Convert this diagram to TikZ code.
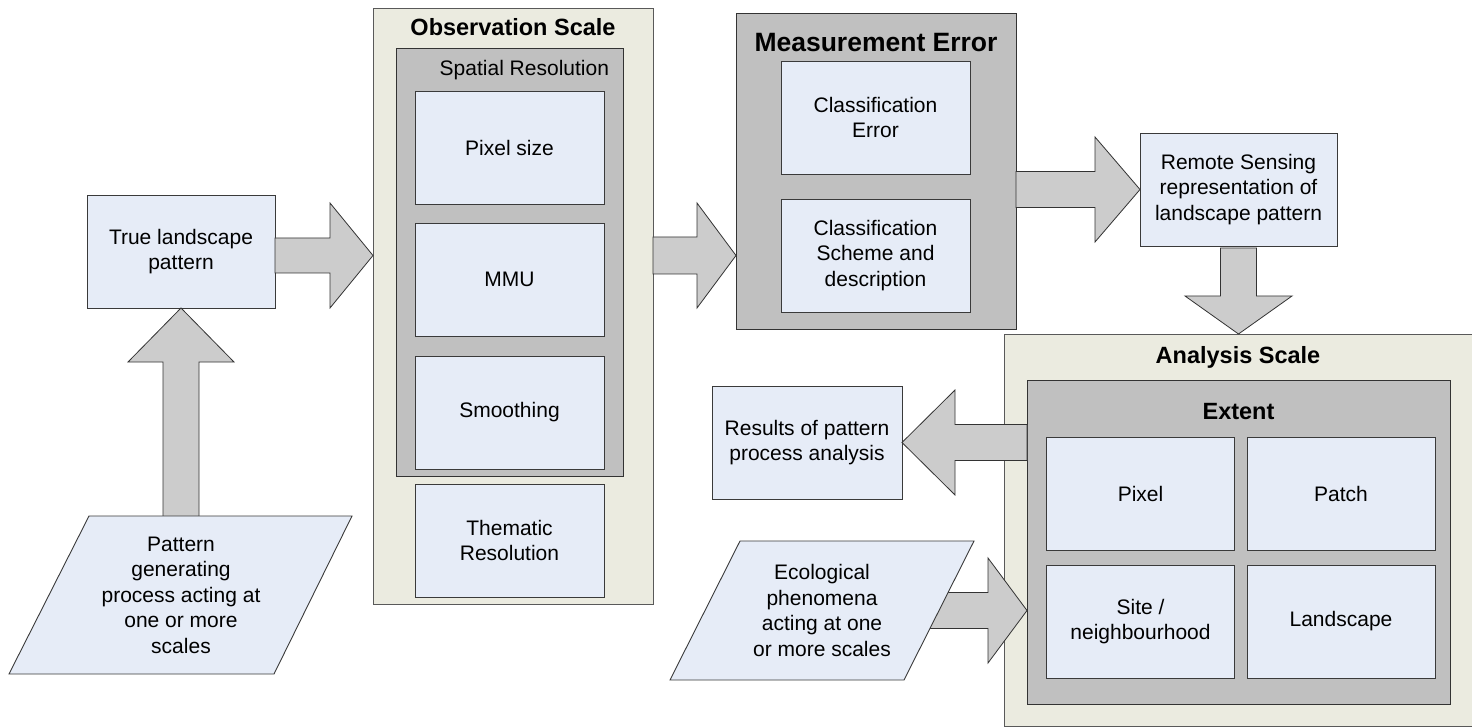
\documentclass[tikz,border=0pt]{standalone}
\usepackage{fontspec}
\setmainfont{Liberation Sans}
\usetikzlibrary{calc}
\definecolor{boxblue}{HTML}{E6ECF7}
\definecolor{beige}{HTML}{EBEBE0}
\definecolor{contgray}{HTML}{C0C0C0}
\definecolor{arrgray}{HTML}{CCCCCC}
\definecolor{edgecol}{HTML}{3A3A3A}
\tikzset{
 every node/.style={font=\fontsize{21}{25.5}\selectfont, inner sep=0pt, outer sep=0pt, align=center},
 bluebox/.style={draw=edgecol, fill=boxblue, line width=0.9pt, minimum width=189pt, minimum height=113pt},
 outerbox/.style={draw=black!65, fill=beige, line width=0.9pt},
 graybox/.style={draw=black!80, fill=contgray, line width=0.9pt},
 blk/.style={draw=black!80, fill=arrgray, line width=0.8pt, line join=miter},
 para/.style={draw=edgecol, fill=boxblue, line width=0.9pt},
 titlebold/.style={font=\fontsize{23.5}{28}\selectfont\bfseries},
 titlebig/.style={font=\fontsize{26.5}{30}\selectfont\bfseries},
}
% block arrow: start, tip, shaft half width, head half width, head length
\newcommand{\blkarrow}[5]{%
 \path ($(#2)!#5!(#1)$) coordinate (bah);
 \draw[blk] ($(#1)!#3!90:(#2)$) -- ($(bah)!#3!90:(#2)$) -- ($(bah)!#4!90:(#2)$) -- (#2)
   -- ($(bah)!#4!-90:(#2)$) -- ($(bah)!#3!-90:(#2)$) -- ($(#1)!#3!-90:(#2)$) -- cycle;}
\begin{document}
\begin{tikzpicture}[x=1pt,y=-1pt]
\useasboundingbox (0,0) rectangle (1472,727);
\clip (0,0) rectangle (1472,727);
% containers
\node[outerbox, minimum width=280pt, minimum height=596pt] (obs) at (513,306) {};
\node[graybox, minimum width=227pt, minimum height=428pt] (spat) at (509.5,262) {};
\node[graybox, minimum width=280pt, minimum height=316pt] (meas) at (876,171) {};
\node[outerbox, minimum width=486pt, minimum height=392pt] (ana) at (1247,530) {};
\node[graybox, minimum width=423pt, minimum height=324pt] (ext) at (1238.5,542) {};
% titles
\node[titlebold] (obst) at (513,27) {Observation Scale};
\node[anchor=east] (spatt) at (609,70) {Spatial Resolution};
\node[titlebig] (meast) at (876,43) {Measurement Error};
\node[titlebold] (anat) at (1238,357) {Analysis Scale};
\node[titlebold] (extt) at (1238.5,412) {Extent};
% boxes
\node[bluebox, minimum width=188pt] (true) at (181,251.5) {True landscape\\pattern};
\node[bluebox] (pix) at (509.5,147.5) {Pixel size};
\node[bluebox] (mmu) at (509.5,279.5) {MMU};
\node[bluebox] (smo) at (509.5,412.5) {Smoothing};
\node[bluebox] (them) at (509.5,540.5) {Thematic\\Resolution};
\node[bluebox] (clerr) at (875.5,117.5) {Classification\\Error};
\node[bluebox] (clsch) at (875.5,255.5) {Classification\\Scheme and\\description};
\node[bluebox, minimum width=197pt] (rem) at (1238.5,189.5) {Remote Sensing\\representation of\\landscape pattern};
\node[bluebox, minimum width=190pt] (res) at (807,442.5) {Results of pattern\\process analysis};
\node[bluebox, minimum width=188pt] (pxl) at (1140.5,493.5) {Pixel};
\node[bluebox, minimum width=188pt] (pat) at (1341,493.5) {Patch};
\node[bluebox, minimum width=188pt] (site) at (1140.5,621.5) {Site /\\neighbourhood};
\node[bluebox, minimum width=188pt] (land) at (1341,621.5) {Landscape};
% centres of the parallelograms
\coordinate (pgc) at (181,595);
\coordinate (ecc) at (822,610.5);
% arrows
\coordinate (a1s) at ($(true.east)+(0,4)$);
\coordinate (a1t) at (obs.west |- a1s);
\blkarrow{a1s}{a1t}{17.5pt}{52.5pt}{43pt}
\blkarrow{pgc}{true.south}{18pt}{53pt}{54pt}
\coordinate (a3s) at (obs.east |- clsch.center);
\coordinate (a3t) at (meas.west |- clsch.center);
\blkarrow{a3s}{a3t}{18.5pt}{52.5pt}{39pt}
\coordinate (a4s) at (meas.east |- rem.west);
\blkarrow{a4s}{rem.west}{18pt}{52.5pt}{45pt}
\coordinate (a5s) at ($(rem.south)+(0,2)$);
\coordinate (a5t) at (rem.south |- ana.north);
\blkarrow{a5s}{a5t}{18pt}{53.5pt}{38pt}
\coordinate (a6s) at (ext.west |- res.east);
\blkarrow{a6s}{res.east}{18pt}{52.5pt}{53pt}
\coordinate (a7t) at (ext.west |- ecc);
\blkarrow{ecc}{a7t}{18pt}{52.5pt}{39pt}
% parallelograms
\draw[para] ($(pgc)+(-92,-79)$) -- ($(pgc)+(171,-79)$) -- ($(pgc)+(93,79)$) -- ($(pgc)+(-172,79)$) -- cycle;
\node (pgen) at (pgc) {Pattern\\generating\\process acting at\\one or more\\scales};
\draw[para] ($(ecc)+(-82,-69.5)$) -- ($(ecc)+(152,-69.5)$) -- ($(ecc)+(82,69.5)$) -- ($(ecc)+(-152,69.5)$) -- cycle;
\node (eco) at (ecc) {Ecological\\phenomena\\acting at one\\or more scales};
\end{tikzpicture}
\end{document}
